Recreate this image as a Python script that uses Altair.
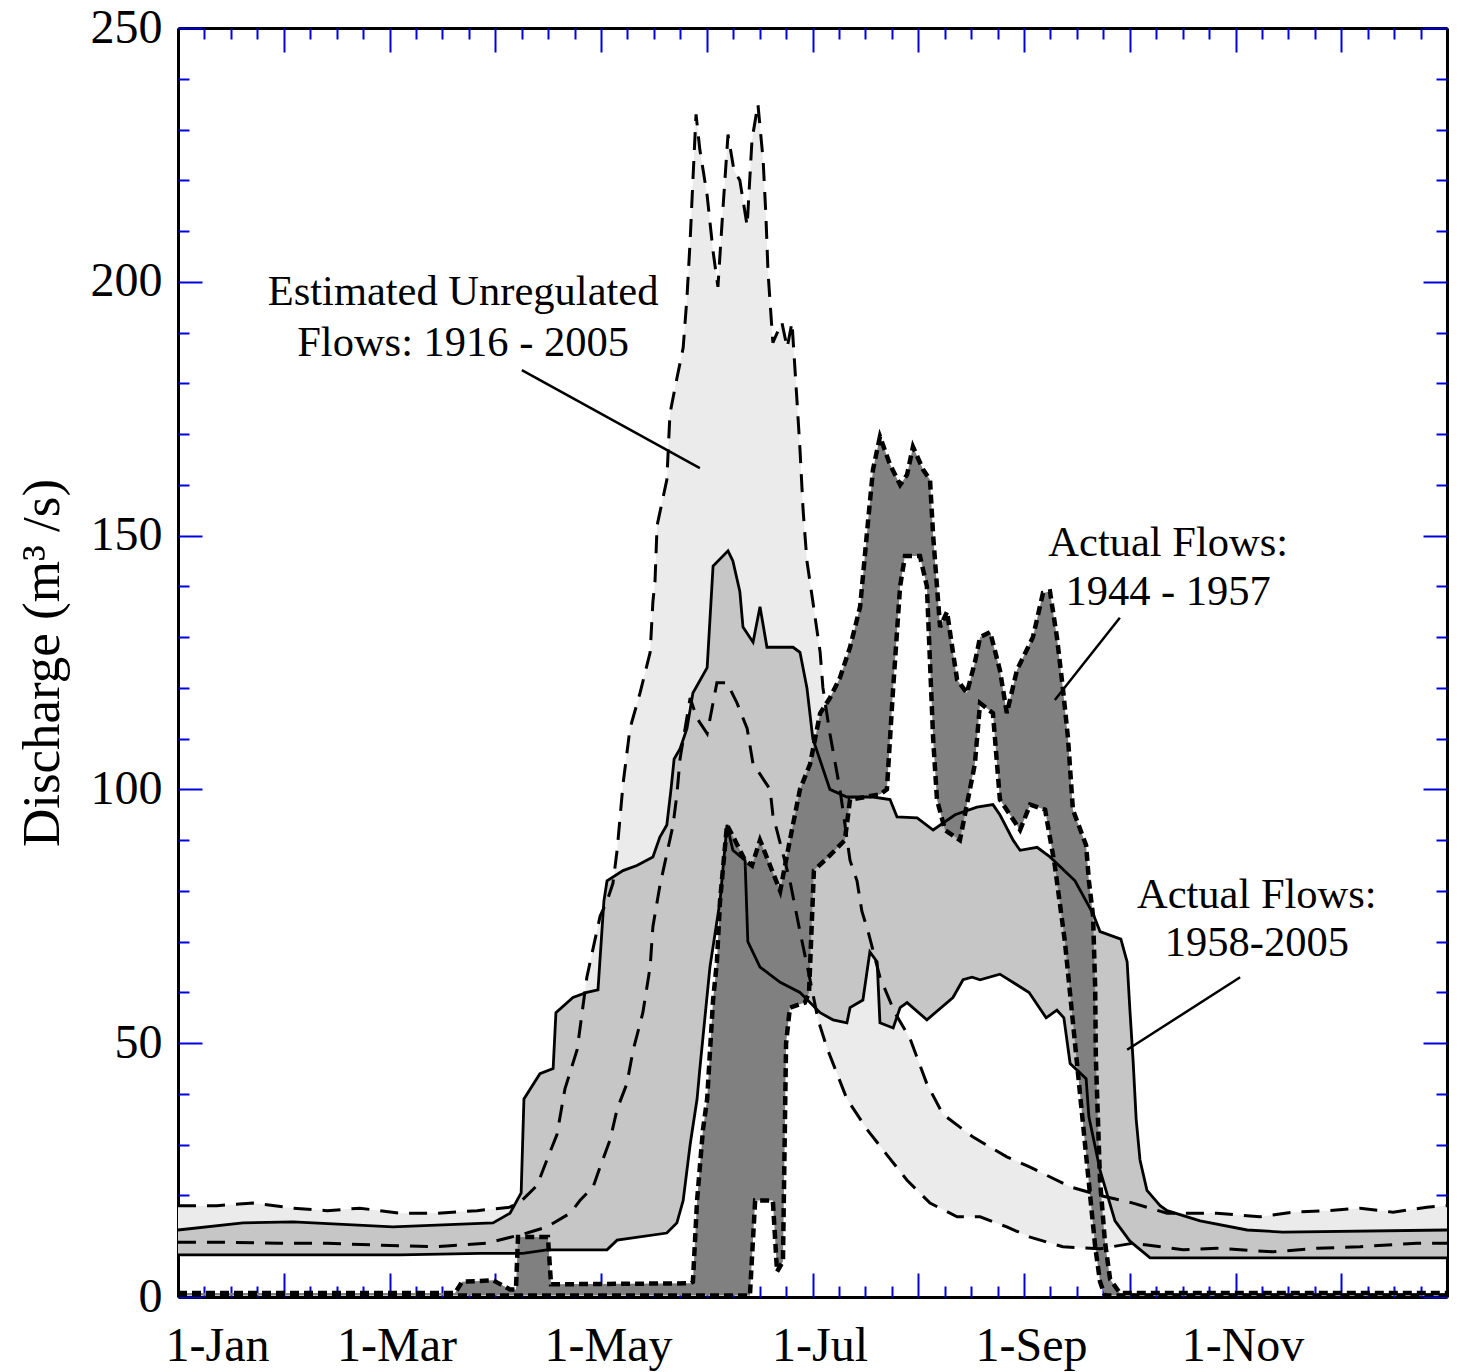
import altair as alt
import pandas as pd

# ---------------- Estimated unregulated flows 1916-2005 (light band) -------------
unreg_up_day = [0, 11.2, 21.6, 33.1, 42.9, 52.3, 63.9, 74.5, 86.0, 95.5, 98.9, 103.3, 106.1, 109.0, 111.3,
                114.8, 117.6, 121.4, 123.4, 125.1, 126.3, 128.0, 130.0, 132.9, 135.8, 136.6, 137.2, 137.8,
                140.6, 141.5, 143.5, 145.3, 146.4, 147.3, 148.1, 149.0, 150.1, 152.2, 153.9, 155.3, 156.8,
                158.2, 159.9, 161.6, 163.7, 165.1, 166.8, 168.3, 169.1, 169.7, 171.1, 173.7, 175.2, 176.6,
                178.0, 178.9, 179.8, 180.9, 182.6, 184.7, 185.5, 187.5, 190.4, 193.3, 195.3, 196.7, 198.5,
                201.9, 206.2, 210.5, 215.4, 220.0, 228.7, 238.4, 245.1, 256.6, 265.2, 274.7, 284.5, 298.8,
                311.2, 320.7, 330.5, 340.0, 349.5, 359.2, 365.0]
unreg_up_val = [18.0, 18.0, 18.5, 17.5, 17.0, 17.5, 16.5, 16.5, 17.0, 17.7, 19.0, 22.0, 27, 32, 41,
                48.7, 63, 75, 78, 81.5, 88, 101, 112, 119, 127, 137, 141, 152,
                161, 174, 181, 187, 197, 208, 220, 233, 226, 217, 206, 199, 215,
                229, 222, 220, 211, 228, 235, 224, 213, 202, 188, 192, 187, 192,
                177, 167, 155, 145, 137, 127, 120, 111, 100, 86, 82, 76, 72,
                63, 56, 51, 42, 36, 31.5, 27.6, 25.6, 21.7, 20, 18.5, 16.5, 16.5,
                15.8, 16.7, 17, 17.5, 16.7, 17.7, 18]
unreg_lo_day = [0, 12.1, 29.3, 42.9, 58.1, 74.5, 88.9, 100.4, 106.1, 112.8, 115.6, 119.4, 121.4, 124.3,
                126.3, 129.1, 130.9, 133.7, 135.8, 136.6, 138.6, 142.4, 143.5, 144.4, 147.3, 149.3, 152.2,
                155.0, 157.9, 160.8, 163.7, 165.4, 167.4, 170.3, 171.1, 176.0, 178.9, 181.8, 184.1, 186.7,
                192.4, 198.2, 203.9, 209.7, 216.3, 224.1, 230.7, 238.4, 245.1, 254.5, 265.2, 274.7, 289.1,
                298.8, 315.0, 327.6, 340.0, 356.4, 365.0]
unreg_lo_val = [10.8, 10.8, 10.6, 10.6, 10.2, 9.9, 10.6, 12.6, 13.8, 16.5, 19, 21.7, 25.6, 31,
                37, 42, 48.6, 56, 65, 73, 81, 93, 99, 106, 118, 114, 111,
                121, 121, 117, 112, 105, 103, 100, 95, 82, 72, 62.5, 54.6, 49,
                39, 33, 28, 23, 18.5, 15.8, 15.8, 13.8, 11.8, 9.9, 9.5, 10.6, 9.3,
                9.6, 8.9, 9.6, 9.9, 10.6, 10.6]

# ---------------- Actual flows 1958-2005 (medium band) ---------------------------
post_up_day = [0, 18.7, 33.1, 61.8, 90.6, 95.5, 98.7, 99.5, 104.1, 107.9, 108.7, 113.6, 117.6, 120.8,
               122.5, 123.4, 128.0, 132.0, 136.6, 138.6, 140.6, 141.8, 142.7, 144.4, 146.4, 148.1, 152.2,
               153.9, 158.2, 159.6, 161.6, 162.5, 165.4, 167.4, 169.4, 176.9, 178.9, 180.9, 182.6, 187.5,
               192.4, 199.9, 204.8, 206.8, 212.6, 217.2, 223.5, 229.8, 234.4, 236.4, 240.2, 242.2, 247.1,
               250.8, 258.0, 263.2, 265.2, 271.2, 273.0, 273.8, 274.7, 275.6, 276.7, 278.7, 282.5, 284.5,
               294.0, 307.5, 317.8, 365.0]
post_up_val = [13.2, 14.6, 14.8, 13.8, 14.6, 16.5, 20.5, 39, 44, 45, 56, 59, 60, 60.5,
               78, 82, 84, 85, 86.7, 90.6, 93, 100, 106, 108, 112, 119, 124,
               144, 147, 145, 139, 132, 129, 136, 128, 128, 127, 120, 110, 100,
               98.5, 98.5, 98, 94.6, 94.4, 92, 95, 96.5, 97, 95, 90, 88, 88.6,
               86.7, 82, 75.5, 72, 70.5, 66, 56.5, 46.7, 35, 27, 21, 18, 17,
               15, 13.2, 12.8, 13.2]
post_lo_day = [0, 35.1, 63.9, 86.9, 99.2, 106.1, 123.4, 126.3, 140.6, 143.5, 145.3, 147.3, 149.3, 150.1,
               153.0, 155.9, 157.9, 159.6, 163.1, 163.9, 167.4, 173.2, 178.9, 184.7, 188.4, 192.4, 193.3,
               197.0, 199.0, 201.1, 201.9, 205.7, 207.7, 209.7, 215.4, 222.9, 225.8, 228.4, 230.7, 236.4,
               244.8, 249.7, 252.8, 254.8, 256.6, 261.2, 262.0, 265.2, 269.5, 273.8, 279.6, 365.0]
post_lo_val = [8.3, 8.3, 8.3, 8.6, 8.6, 9.3, 9.3, 11.2, 12.6, 14.6, 19, 30, 39, 45,
               65, 78, 93, 88, 86, 70, 65, 62, 60, 56, 54.6, 54, 57,
               58.5, 68, 66, 54, 53, 57, 58, 54.6, 59, 62.5, 63, 62.5, 63.6,
               60, 55, 56.5, 55, 46, 43, 35.5, 25, 15, 11, 7.7, 7.7]

# ---------------- Actual flows 1944-1957 (dark band) -----------------------------
pre_up_day = [0, 79.7, 81.7, 90.6, 95.5, 97.2, 97.8, 106.4, 107.3, 147.3, 148.1, 149.3, 151.0, 152.2,
              153.9, 155.0,
              155.9, 157.9, 160.2, 163.1, 165.1, 167.4, 170.3, 173.2, 176.0, 178.9, 181.8, 184.7, 187.5,
              190.4, 193.3, 196.2, 198.5, 199.9, 201.9, 204.8, 207.7, 209.7, 211.4, 214.3, 216.3, 217.2,
              218.3, 219.2, 221.2, 222.9, 224.1, 226.9, 229.2, 230.7, 233.6, 236.4, 238.4, 241.3, 245.9,
              248.8, 250.8, 252.8, 254.5, 256.0, 257.4, 261.2, 262.0, 263.2, 263.8, 264.0, 264.6, 265.2,
              266.6, 268.1, 270.9, 365.0]
pre_up_val = [0.8, 0.8, 3, 3.3, 1.5, 1.5, 11.8, 11.8, 2.5, 2.7, 3, 19, 33, 39, 58.5, 66,
              78, 93, 90, 86, 85, 90, 85, 80, 90, 100, 105, 115, 118,
              122, 128, 136, 153, 163, 169.5, 164, 160, 162, 167.5, 163, 161, 150,
              140, 132, 135, 127, 121.6, 119, 125, 130, 131, 123.5, 115, 123.5, 130,
              138.7, 139, 130, 120, 110, 96, 89, 82, 75, 61, 47, 35, 23,
              11, 3.5, 0.8, 0.8]
pre_lo_day = [0, 164.5, 166.0, 171.1, 172.3, 174.0, 174.9, 176.0, 180.3, 181.5, 182.9, 187.5, 191.8,
              193.3, 201.9, 203.9, 205.7, 207.7, 209.1, 213.4, 215.4, 217.2, 218.3, 220.6, 224.9, 229.2,
              230.7, 234.4, 236.4, 239.3, 242.2, 245.1, 249.4, 252.2, 255.1, 258.0, 260.9, 263.8, 265.2,
              266.6, 365.0]
pre_lo_val = [0.3, 0.3, 19, 19, 5, 7, 50, 57, 58, 60, 84, 87, 90,
              98, 99, 100, 120, 140, 146, 146, 140, 110, 98, 92, 90, 105,
              117, 115, 98, 95, 92, 97, 96, 85, 70, 50, 30, 10, 3,
              0.3, 0.3]

# ---------------- Axes ----------------------------------------------------------
month_labels = ["1-Jan", "1-Mar", "1-May", "1-Jul", "1-Sep", "1-Nov"]
year_days = 365
y_labels = [0, 50, 100, 150, 200, 250]

# ---------------- Annotations ---------------------------------------------------
note_text = ["Estimated Unregulated", "Flows: 1916 - 2005", "Actual Flows:", "1944 - 1957",
             "Actual Flows:", "1958-2005"]
note_day = [82.0, 82.0, 284.8, 284.8, 310.3, 310.3]
note_val = [198.0, 188.0, 148.5, 138.9, 79.2, 69.7]
lead_day = [98.9, 270.9, 305.5]
lead_val = [182.6, 133.8, 63.0]
lead_day2 = [150.1, 252.2, 273.0]
lead_val2 = [163.3, 117.6, 48.7]

W = H = 1269
FONT = "Liberation Serif"
TICK = "#0000dd"

xs = alt.Scale(domain=[0, year_days], nice=False, zero=False)
ys = alt.Scale(domain=[0, 250], nice=False)


def poly(xu, yu, xl, yl):
    d = list(xu) + list(xl)[::-1]
    v = list(yu) + list(yl)[::-1]
    return pd.DataFrame({"day": d, "q": v, "o": list(range(len(d)))})


def series(xv, yv):
    return pd.DataFrame({"day": xv, "q": yv, "o": list(range(len(xv)))})


def enc(ch):
    return ch.encode(
        x=alt.X("day:Q", scale=xs, axis=None),
        y=alt.Y("q:Q", scale=ys, axis=None),
        order="o:Q",
    )


def fill(df, color):
    return enc(alt.Chart(df).mark_line(filled=True, color=color, clip=True, interpolate="linear"))


def line(df, width, dash=None):
    kw = dict(color="black", strokeWidth=width, clip=True)
    if dash is not None:
        kw["strokeDash"] = dash
    return enc(alt.Chart(df).mark_line(**kw))


layers = [
    fill(poly(unreg_up_day, unreg_up_val, unreg_lo_day, unreg_lo_val), "#ebebeb"),
    fill(poly(post_up_day, post_up_val, post_lo_day, post_lo_val), "#c6c6c6"),
    fill(poly(pre_up_day, pre_up_val, pre_lo_day, pre_lo_val), "#808080"),
    line(series(unreg_up_day, unreg_up_val), 3, [18, 11]),
    line(series(unreg_lo_day, unreg_lo_val), 3, [18, 11]),
    line(series(post_up_day, post_up_val), 2.8),
    line(series(post_lo_day, post_lo_val), 2.8),
    line(series(pre_up_day, pre_up_val), 4.5, [9, 5]),
    line(series(pre_lo_day, pre_lo_val), 4.5, [9, 5]),
]

notes = pd.DataFrame({"day": note_day, "q": note_val, "t": note_text})
layers.append(alt.Chart(notes).mark_text(font=FONT, fontSize=42.5, color="black", align="center",
                                         baseline="middle").encode(
    x=alt.X("day:Q", scale=xs, axis=None), y=alt.Y("q:Q", scale=ys, axis=None), text="t:N"))

leads = pd.DataFrame({"day": lead_day, "q": lead_val, "d2": lead_day2, "q2": lead_val2})
layers.append(alt.Chart(leads).mark_rule(color="black", strokeWidth=2.5).encode(
    x=alt.X("day:Q", scale=xs, axis=None), y=alt.Y("q:Q", scale=ys, axis=None),
    x2="d2:Q", y2="q2:Q"))

# axes: labels + frame + inward ticks (major/minor) on all sides
step = year_days / 12
month_ticks = [i * step for i in range(13)]
minor_x = [i * step / 4 for i in range(49) if i % 4]
label_vals = [i * 2 * step for i in range(len(month_labels))]
label_expr = "[" + ",".join("'%s'" % s for s in month_labels) + "][round(datum.value / %f)]" % (2 * step)
minor_y = [v for v in range(0, 251, 10) if v % 50]

anchor = pd.DataFrame({"day": [0.0], "q": [0.0]})


def axis_layer(ax, ay):
    return alt.Chart(anchor).mark_point(opacity=0).encode(
        x=alt.X("day:Q", scale=xs, axis=ax), y=alt.Y("q:Q", scale=ys, axis=ay))


common = dict(grid=False, title=None)
layers.append(axis_layer(
    alt.Axis(orient="bottom", values=label_vals, labelExpr=label_expr, ticks=False, tickSize=0,
             domainColor="black", domainWidth=3, labelFont=FONT, labelFontSize=48, labelColor="black",
             labelPadding=25, labelFlush=True, labelOffset=7, labelFlushOffset=20, grid=False, title=None),
    alt.Axis(orient="left", values=y_labels, ticks=False, tickSize=0, domainColor="black",
             domainWidth=3, labelFont=FONT, labelFontSize=48, labelColor="black", labelPadding=16,
             grid=False, title="Discharge (m\u00b3 /s)", titleFont=FONT, titleFontSize=53,
             titleFontWeight="normal", titleColor="black", titlePadding=21)))
layers.append(axis_layer(
    alt.Axis(orient="top", labels=False, ticks=False, tickSize=0, domainColor="black", domainWidth=3,
             **common),
    alt.Axis(orient="right", labels=False, ticks=False, tickSize=0, domainColor="black", domainWidth=3,
             **common)))
for vals_x, vals_y, size in [(month_ticks, y_labels, 24), (minor_x, minor_y, 11)]:
    layers.append(axis_layer(
        alt.Axis(orient="top", offset=-H, values=vals_x, labels=False, domain=False, tickColor=TICK,
                 tickSize=size, tickWidth=2, **common),
        alt.Axis(orient="right", offset=-W, values=vals_y, labels=False, domain=False, tickColor=TICK,
                 tickSize=size, tickWidth=2, **common)))
    layers.append(axis_layer(
        alt.Axis(orient="bottom", offset=-H, values=vals_x, labels=False, domain=False, tickColor=TICK,
                 tickSize=size, tickWidth=2, **common),
        alt.Axis(orient="left", offset=-W, values=vals_y, labels=False, domain=False, tickColor=TICK,
                 tickSize=size, tickWidth=2, **common)))

chart = alt.layer(*layers).resolve_axis(x="independent", y="independent").properties(
    width=W, height=H,
    autosize=alt.AutoSizeParams(type="none"),
    padding={"left": 178, "top": 28, "right": 16, "bottom": 75},
).configure_view(stroke=None).configure(background="white")

chart.save("out.html", embed_options={"renderer": "svg", "actions": False})
